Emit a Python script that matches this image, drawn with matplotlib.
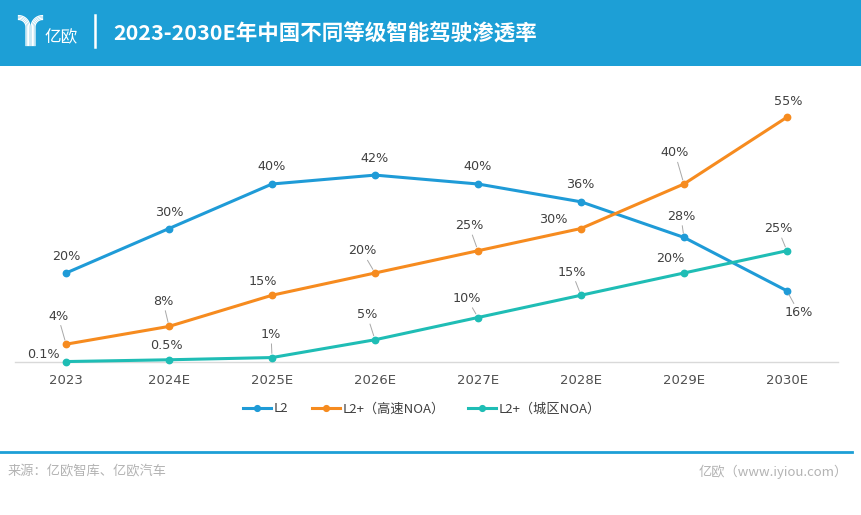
"""
2023-2030E penetration rate of different intelligent-driving levels in China.
"""

import matplotlib
matplotlib.use("Agg")
import matplotlib.pyplot as plt
import numpy as np
from matplotlib.patches import Rectangle
from matplotlib.lines import Line2D

plt.rcParams["font.family"] = ["DejaVu Sans", "Noto Sans CJK SC"]

YEARS = ["2023", "2024E", "2025E", "2026E", "2027E", "2028E", "2029E", "2030E"]
L2 = [20, 30, 40, 42, 40, 36, 28, 16]
L2_HIGHWAY = [4, 8, 15, 20, 25, 30, 40, 55]
L2_URBAN = [0.1, 0.5, 1, 5, 10, 15, 20, 25]
LABELS_L2 = ["20%", "30%", "40%", "42%", "40%", "36%", "28%", "16%"]
LABELS_HIGHWAY = ["4%", "8%", "15%", "20%", "25%", "30%", "40%", "55%"]
LABELS_URBAN = ["0.1%", "0.5%", "1%", "5%", "10%", "15%", "20%", "25%"]
SERIES_NAMES = ["L2", "L2+（高速NOA）", "L2+（城区NOA）"]

TITLE = "2023-2030E年中国不同等级智能驾驶渗透率"
SOURCE = "来源：亿欧智库、亿欧汽车"
SITE = "亿欧（www.iyiou.com）"

COLORS = ["#1f9bd7", "#f68b1f", "#1fbdb5"]
HEADER_BLUE = "#1d9fd6"
TEXT = "#404040"
LEADER = "#a8a8a8"

# label offsets in pixels (right, up) and whether a leader line is drawn
OFFS_L2 = [(0, 17, 0), (0, 16, 0), (0, 18, 0), (0, 17, 0), (0, 18, 0),
           (-1, 17, 0), (-3, 21, 1), (12, -22, 1)]
OFFS_HIGHWAY = [(-8, 28, 1), (-6, 25, 1), (-9, 14, 0), (-13, 22, 1),
                (-9, 25, 1), (-28, 9, 0), (-9, 31, 1), (1, 16, 0)]
OFFS_URBAN = [(-23, 7, 0), (-3, 14, 0), (-1, 23, 1), (-8, 25, 1),
              (-11, 19, 1), (-9, 23, 1), (-14, 14, 0), (-9, 22, 1)]

W, H = 862, 515


def fx(px):
    return px / W


def fy(py):
    return 1 - py / H


def draw_logo(fig):
    # stylised "Y": concentric quarter arcs running into a vertical stem
    mid, cy, bottom = 30.5, 27.0, 45.5
    th = np.linspace(0, np.pi / 2, 30)
    for k in range(4):
        r = 11.4 - 1.3 * k
        for side in (-1, 1):
            cx = mid + side * 12.0
            px = cx - side * r * np.sin(th)
            py = cy - r * np.cos(th)
            px = np.append(px, px[-1])
            py = np.append(py, bottom)
            fig.add_artist(Line2D(fx(px), fy(py), color="white", lw=0.9,
                                  transform=fig.transFigure))
    fig.text(fx(44), fy(38), "亿欧", color="white", fontsize=12,
             family="Noto Sans CJK SC", weight="light", va="center", ha="left")
    fig.add_artist(Line2D([fx(95), fx(95)], [fy(15), fy(47)], color="white",
                          lw=1.8, transform=fig.transFigure))


def main():
    fig = plt.figure(figsize=(W / 100, H / 100), dpi=100)
    fig.patch.set_facecolor("white")

    # header band
    fig.add_artist(Rectangle((0, fy(66)), 1, 66 / H, transform=fig.transFigure,
                             facecolor=HEADER_BLUE, edgecolor="none"))
    draw_logo(fig)
    fig.text(fx(113), fy(34), TITLE, color="white", fontsize=15.5,
             weight="bold", family="Noto Sans CJK SC", va="center", ha="left")

    # footer
    fig.add_artist(Line2D([0, fx(852)], [fy(452), fy(452)], color=HEADER_BLUE,
                          lw=2, transform=fig.transFigure))
    fig.text(fx(8), fy(472), SOURCE, color="#b3b3b3", fontsize=9.5,
             family="Noto Sans CJK SC", va="center", ha="left")
    fig.text(fx(848), fy(472), SITE, color="#b3b3b3", fontsize=9.5,
             family="Noto Sans CJK SC", va="center", ha="right")

    # plot area: baseline at y=362 px, 4.45 px per percent
    left, right, bottom, top = 14.6, 838.4, 362, 80
    ax = fig.add_axes([fx(left), fy(bottom), (right - left) / W, (bottom - top) / H])
    x = np.arange(len(YEARS))
    ax.set_xlim(-0.5, len(YEARS) - 0.5)
    ax.set_ylim(0, (bottom - top) / 4.45)

    series = [
        (L2, LABELS_L2, OFFS_L2),
        (L2_HIGHWAY, LABELS_HIGHWAY, OFFS_HIGHWAY),
        (L2_URBAN, LABELS_URBAN, OFFS_URBAN),
    ]
    for (vals, labels, offs), name, color in zip(series, SERIES_NAMES, COLORS):
        ax.plot(x, vals, color=color, lw=2.2, marker="o", markersize=4.6,
                label=name, clip_on=False, zorder=3)
        for xi, v, lab, (dx, dy, lead) in zip(x, vals, labels, offs):
            kw = {}
            if lead:
                kw["arrowprops"] = dict(arrowstyle="-", color=LEADER, lw=0.7,
                                        shrinkA=0, shrinkB=3)
            ax.annotate(lab, xy=(xi, v), xytext=(dx, dy),
                        textcoords="offset pixels", ha="center", va="center",
                        fontsize=9.2, color=TEXT, zorder=4, **kw)

    for s in ["top", "right", "left"]:
        ax.spines[s].set_visible(False)
    ax.spines["bottom"].set_color("#d9d9d9")
    ax.spines["bottom"].set_linewidth(1)
    ax.set_yticks([])
    ax.set_xticks(x)
    ax.set_xticklabels(YEARS)
    ax.tick_params(axis="x", length=0, pad=9, labelsize=9.5, labelcolor="#505050")
    ax.set_facecolor("none")

    leg = ax.legend(loc="center", bbox_to_anchor=(fx(422), fy(409)),
                    bbox_transform=fig.transFigure, ncol=3, frameon=False,
                    handlelength=2.1, handletextpad=0.2, columnspacing=1.8,
                    markerscale=0.9,
                    prop={"family": "Noto Sans CJK SC", "size": 9.5})
    for t in leg.get_texts():
        t.set_color(TEXT)

    fig.savefig("out.png", dpi=100)
    plt.close(fig)


if __name__ == "__main__":
    main()
